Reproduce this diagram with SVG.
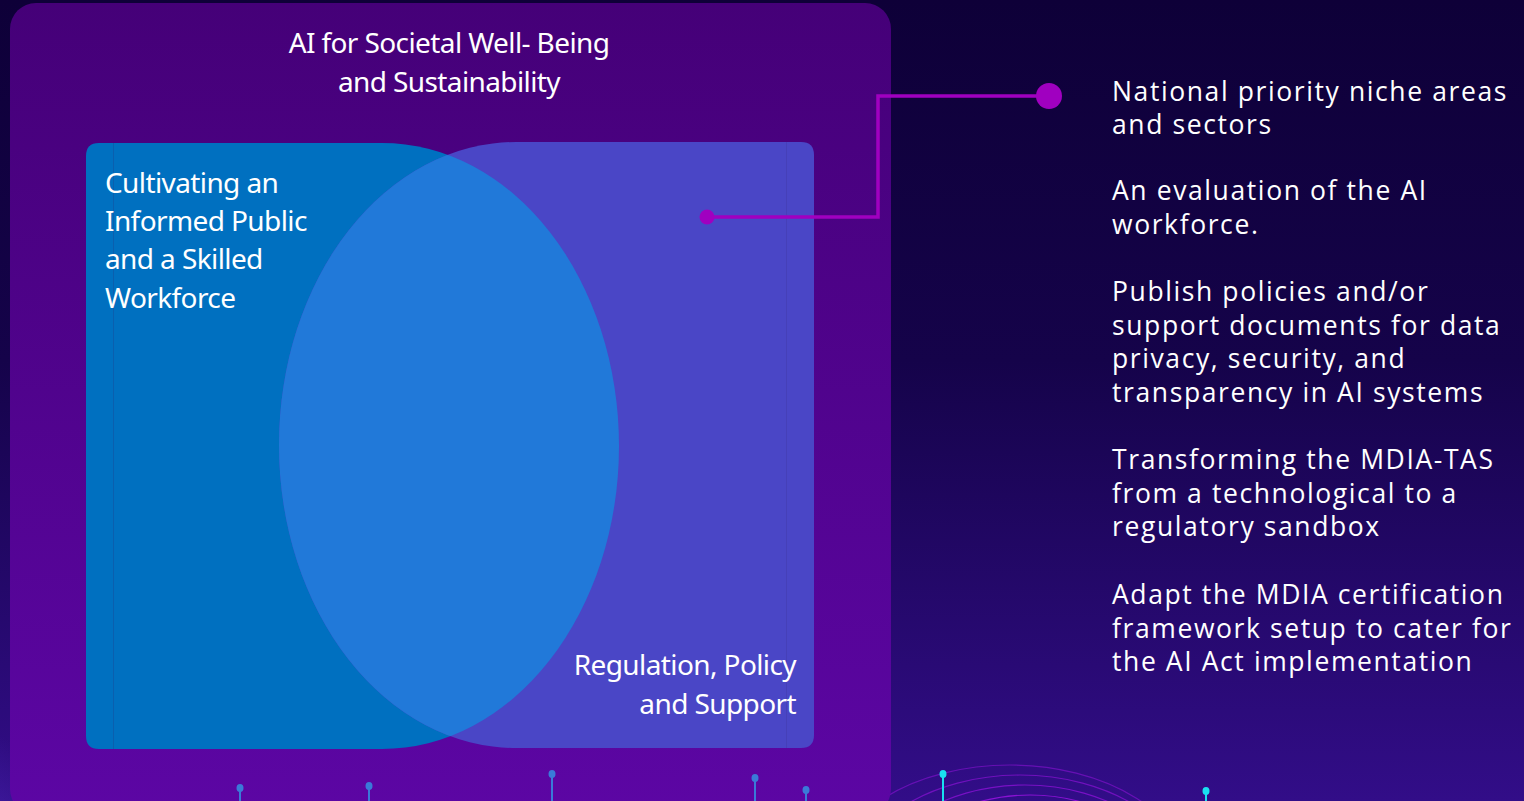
<svg xmlns="http://www.w3.org/2000/svg" width="1524" height="801" viewBox="0 0 1524 801">
<defs>
<linearGradient id="bg" x1="0" y1="0" x2="0" y2="1">
<stop offset="0" stop-color="#0e0038"/>
<stop offset="0.45" stop-color="#15034a"/>
<stop offset="1" stop-color="#320d88"/>
</linearGradient>
<linearGradient id="panel" x1="0" y1="0" x2="0" y2="1">
<stop offset="0" stop-color="#450078"/>
<stop offset="1" stop-color="#5c06a4"/>
</linearGradient>
<radialGradient id="glow" cx="0" cy="1" r="1">
<stop offset="0" stop-color="#5a3ad0" stop-opacity="0.7"/>
<stop offset="1" stop-color="#5a3ad0" stop-opacity="0"/>
</radialGradient>
<clipPath id="rightClip">
<path d="M516,142 L801,142 Q814,142 814,155 L814,735 Q814,748 801,748 L516,748 A237,303 0 0 1 516,142 Z"/>
</clipPath>
<style>
.lbl{font-family:"Noto Sans","Open Sans",sans-serif;fill:#ffffff;font-size:28px;letter-spacing:-0.6px}
.item{font-family:"Open Sans","Noto Sans",sans-serif;fill:#ffffff;font-size:26.5px;letter-spacing:1.6px}
.conn{fill:none;stroke:#a000c0;stroke-width:3.5}
.dot{fill:#a000c0}
.pin{stroke:#3a7ad8;stroke-width:2}
.pinh{fill:#3a7ad8}
.cyan{stroke:#19e0f0;stroke-width:2}
.cyanh{fill:#19e0f0}
.arc{fill:none;stroke:#8a12d4;stroke-width:1.2}
</style>
</defs>
<rect width="1524" height="801" fill="url(#bg)"/>
<ellipse cx="0" cy="801" rx="90" ry="90" fill="url(#glow)"/>
<g id="background-arcs">
<ellipse class="arc" cx="1010" cy="880" rx="180" ry="115" opacity="0.6"/>
<ellipse class="arc" cx="1020" cy="890" rx="170" ry="115" opacity="0.7"/>
<ellipse class="arc" cx="1025" cy="900" rx="160" ry="115" opacity="0.8"/>
<ellipse class="arc" cx="1030" cy="910" rx="150" ry="115"/>
</g>
<g id="frame">
<rect x="10" y="3" width="881" height="812" rx="26" fill="url(#panel)"/>
<text class="lbl" x="449" y="53" text-anchor="middle">AI for Societal Well- Being</text>
<text class="lbl" x="449" y="92" text-anchor="middle">and Sustainability</text>
</g>
<g id="node-left">
<path d="M99,143 L382,143 A237,303 0 0 1 382,749 L99,749 Q86,749 86,736 L86,156 Q86,143 99,143 Z" fill="#0070c0"/>
<line x1="113.5" y1="143" x2="113.5" y2="749" stroke="#0a5fae" stroke-width="1"/>
<text class="lbl" x="105" y="193">Cultivating an</text>
<text class="lbl" x="105" y="231">Informed Public</text>
<text class="lbl" x="105" y="269">and a Skilled</text>
<text class="lbl" x="105" y="308">Workforce</text>
</g>
<g id="node-right">
<path d="M516,142 L801,142 Q814,142 814,155 L814,735 Q814,748 801,748 L516,748 A237,303 0 0 1 516,142 Z" fill="#4a46c6"/>
<line x1="786.5" y1="142" x2="786.5" y2="748" stroke="#4640b8" stroke-width="1"/>
</g>
<g id="node-overlap">
<path clip-path="url(#rightClip)" d="M99,143 L382,143 A237,303 0 0 1 382,749 L99,749 Q86,749 86,736 L86,156 Q86,143 99,143 Z" fill="#2179d9"/>
<text class="lbl" x="796" y="675" text-anchor="end">Regulation, Policy</text>
<text class="lbl" x="796" y="714" text-anchor="end">and Support</text>
</g>
<g id="connectors">
<polyline class="conn" points="707,217 878,217 878,96 1049,96"/>
<circle class="dot" cx="707" cy="217" r="7.5"/>
<circle class="dot" cx="1049" cy="96" r="13"/>
</g>
<g id="node-list">
<text class="item" x="1112" y="101">National priority niche areas</text>
<text class="item" x="1112" y="134">and sectors</text>
<text class="item" x="1112" y="200">An evaluation of the AI</text>
<text class="item" x="1112" y="234">workforce.</text>
<text class="item" x="1112" y="301">Publish policies and/or</text>
<text class="item" x="1112" y="335">support documents for data</text>
<text class="item" x="1112" y="368">privacy, security, and</text>
<text class="item" x="1112" y="402">transparency in AI systems</text>
<text class="item" x="1112" y="469">Transforming the MDIA-TAS</text>
<text class="item" x="1112" y="503">from a technological to a</text>
<text class="item" x="1112" y="536">regulatory sandbox</text>
<text class="item" x="1112" y="604">Adapt the MDIA certification</text>
<text class="item" x="1112" y="638">framework setup to cater for</text>
<text class="item" x="1112" y="671">the AI Act implementation</text>
</g>
<g id="pins">
<line class="pin" x1="240" y1="788" x2="240" y2="801"/><ellipse class="pinh" cx="240" cy="788" rx="3.5" ry="4"/>
<line class="pin" x1="369" y1="786" x2="369" y2="801"/><ellipse class="pinh" cx="369" cy="786" rx="3.5" ry="4"/>
<line class="pin" x1="552" y1="774" x2="552" y2="801"/><ellipse class="pinh" cx="552" cy="774" rx="3.5" ry="4"/>
<line class="pin" x1="755" y1="778" x2="755" y2="801"/><ellipse class="pinh" cx="755" cy="778" rx="3.5" ry="4"/>
<line class="pin" x1="806" y1="790" x2="806" y2="801"/><ellipse class="pinh" cx="806" cy="790" rx="3.5" ry="4"/>
<line class="cyan" x1="943" y1="774" x2="943" y2="801"/><ellipse class="cyanh" cx="943" cy="774" rx="3.5" ry="4"/>
<line class="cyan" x1="1206" y1="791" x2="1206" y2="801"/><ellipse class="cyanh" cx="1206" cy="791" rx="3.5" ry="4"/>
</g>
</svg>
